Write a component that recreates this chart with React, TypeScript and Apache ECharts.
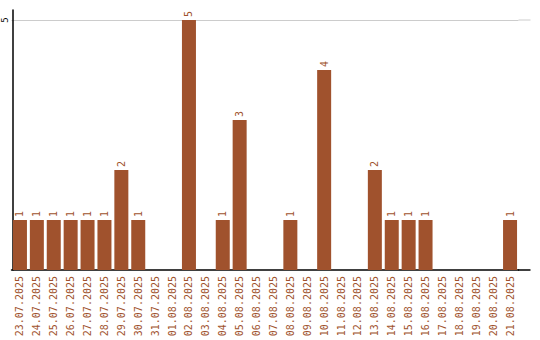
import React, { useEffect, useRef } from "react";
import * as echarts from "echarts";

const categories: string[] = [
  "23.07.2025", "24.07.2025", "25.07.2025", "26.07.2025", "27.07.2025",
  "28.07.2025", "29.07.2025", "30.07.2025", "31.07.2025", "01.08.2025",
  "02.08.2025", "03.08.2025", "04.08.2025", "05.08.2025", "06.08.2025",
  "07.08.2025", "08.08.2025", "09.08.2025", "10.08.2025", "11.08.2025",
  "12.08.2025", "13.08.2025", "14.08.2025", "15.08.2025", "16.08.2025",
  "17.08.2025", "18.08.2025", "19.08.2025", "20.08.2025", "21.08.2025",
];

const counts: number[] = [
  1, 1, 1, 1, 1, 1, 2, 1, 0, 0,
  5, 0, 1, 3, 0, 0, 1, 0, 4, 0,
  0, 2, 1, 1, 1, 0, 0, 0, 0, 1,
];

const yTicks: number[] = [0, 5];

const BROWN = "#a0522d";
const FONT = "'DejaVu Sans Mono', monospace";

export default function App() {
  const ref = useRef<HTMLDivElement>(null);

  useEffect(() => {
    document.body.style.margin = "0";
    if (!ref.current) return;
    const chart = echarts.init(ref.current, null, { renderer: "svg" });
    chart.setOption({
      animation: false,
      backgroundColor: "#ffffff",
      grid: { left: 8.5, right: 21.5, top: 10, bottom: 70, containLabel: false },
      xAxis: {
        type: "category",
        data: categories,
        axisLine: { show: true, lineStyle: { color: "#000", width: 1.5 } },
        axisTick: { show: false },
        axisLabel: {
          rotate: 90,
          interval: 0,
          margin: 6,
          color: BROWN,
          fontFamily: FONT,
          fontSize: 10,
        },
        splitLine: { show: false },
      },
      yAxis: {
        type: "value",
        min: yTicks[0],
        max: 5.2,
        interval: yTicks[1] - yTicks[0],
        offset: -1.5,
        axisLine: { show: true, lineStyle: { color: "#000", width: 1.5 } },
        axisTick: { show: false },
        axisLabel: {
          rotate: 90,
          margin: 4,
          color: "#000",
          fontFamily: FONT,
          fontSize: 9,
          showMaxLabel: false,
          formatter: (v: number) => (v === 0 ? "" : String(v)),
        },
        splitLine: {
          show: true,
          showMinLine: false,
          showMaxLine: false,
          lineStyle: { color: "#cccccc", width: 1 },
        },
      },
      graphic: [
        {
          type: "line",
          shape: { x1: 518.5, y1: 20, x2: 530.5, y2: 20 },
          style: { stroke: "#cccccc", lineWidth: 1 },
          z: 1,
        },
        {
          type: "line",
          shape: { x1: 518, y1: 270, x2: 530.5, y2: 270 },
          style: { stroke: "#000", lineWidth: 1.5 },
          z: 5,
        },
      ],
      series: [
        {
          type: "bar",
          data: counts.map((v) => (v === 0 ? null : v)),
          barWidth: 14,
          itemStyle: { color: BROWN },
          label: {
            show: true,
            position: "top",
            rotate: 90,
            align: "left",
            verticalAlign: "middle",
            distance: 3,
            color: BROWN,
            fontFamily: FONT,
            fontSize: 10,
          },
        },
      ],
    });
    return () => chart.dispose();
  }, []);

  return <div ref={ref} style={{ width: 540, height: 340 }} />;
}
